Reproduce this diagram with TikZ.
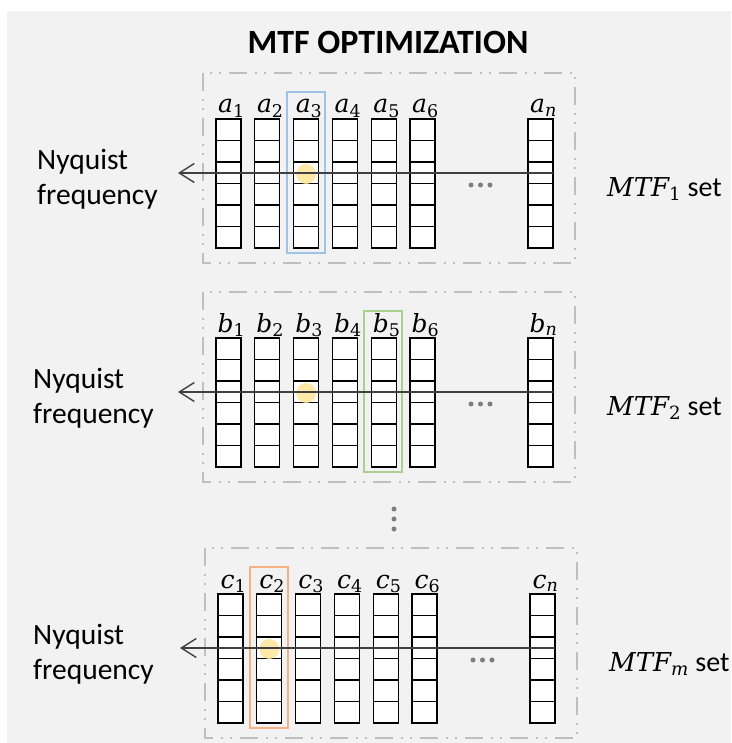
\documentclass[tikz,border=0pt]{standalone}
\usepackage{fontspec}
\setmainfont{Carlito}
\newfontfamily\symfont{DejaVu Serif}
\usetikzlibrary{arrows.meta,calc}

\definecolor{bggray}{HTML}{F2F2F2}
\definecolor{framegray}{HTML}{BFBFBF}
\definecolor{hlblue}{HTML}{9DC3E6}
\definecolor{hlgreen}{HTML}{A9D18E}
\definecolor{hlorange}{HTML}{F4B183}
\definecolor{spotyellow}{HTML}{FFE699}
\definecolor{axisgray}{HTML}{404040}
\definecolor{dotgray}{HTML}{7F7F7F}

% italic symbol with a subscript
\newcommand{\symb}[2]{{\symfont\itshape #1}\textsubscript{\symfont #2}}

\tikzset{
  setframe/.style={draw=framegray, line width=1.8pt,
    dash pattern=on 18pt off 8pt on 2pt off 7pt on 2pt off 8pt},
  column/.style={draw=black, fill=white, line width=1.3pt,
    minimum width=25pt, minimum height=129pt, inner sep=0pt, outer sep=0pt},
  cellline/.style={draw=black, line width=1.3pt},
  pick/.style={line width=1.8pt},
  spot/.style={fill=spotyellow, opacity=0.85},
  scanline/.style={draw=axisgray, line width=1.4pt,
    -{Straight Barb[length=15pt,width=19pt,line width=1.4pt]}},
  colname/.style={font=\fontsize{25}{28}\selectfont, inner sep=0pt, anchor=base},
  sidetext/.style={font=\fontsize{29.5}{35}\selectfont, align=left, anchor=west, inner sep=0pt},
  settext/.style={font=\fontsize{28}{34}\selectfont, anchor=west, inner sep=0pt},
  ellipsisdot/.style={fill=dotgray, draw=none},
}

% #1 prefix, #2 letter, #3 x shift, #4 column top, #5 highlighted column,
% #6 highlight colour, #7 spot column, #8 set index, #9 x of side text
\newcommand{\mtfpanel}[9]{%
  \begin{scope}[xshift=#3pt]
    \draw[setframe] (203,#4-46) rectangle (575,#4+144);
    \foreach \i in {1,...,6} {
      \pgfmathsetmacro\xl{216+(\i-1)*38.8}
      \node[column, anchor=north west] (#1\i) at (\xl,#4) {};
      \foreach \k in {1,...,5}
        \draw[cellline] ($(#1\i.north west)+(0,\k*21.5)$) -- ++(25,0);
      \node[colname] (#1l\i) at ($(#1\i.north)+(3,-6)$) {\symb{#2}{\i}};
    }
    \node[column, anchor=north west] (#1n) at (528,#4) {};
    \foreach \k in {1,...,5}
      \draw[cellline] ($(#1n.north west)+(0,\k*21.5)$) -- ++(25,0);
    \node[colname] (#1ln) at ($(#1n.north)+(3,-6)$) {\symb{#2}{\itshape n}};
    % highlighted column
    \draw[pick, draw=#6] ($(#1#5.north west)+(-7,-27)$) rectangle ($(#1#5.south east)+(6,5)$);
    % sampled frequency spot
    \coordinate (#1tip) at (178,#4+54);
    \fill[spot] (#1#7.center |- #1tip) ++(0,1) circle (10pt);
    \draw[scanline] (#1n.east |- #1tip) -- (#1tip);
    % ellipsis between columns
    \foreach \d in {471,480.5,490}
      \fill[ellipsisdot] (\d,#4+66) circle (2.5pt);
    \node[sidetext] (#1nyq) at (#9,#4+60) {Nyquist\\frequency};
    \node[settext] (#1set) at (607,#4+70) {{\fontsize{26}{30}\selectfont\symb{MTF}{#8}} set};
  \end{scope}
}

\begin{document}
\begin{tikzpicture}[x=1pt,y=-1pt]
  \useasboundingbox (0,0) rectangle (731,743);
  \fill[bggray] (7,11) rectangle (731,743);
  \node[font=\bfseries\fontsize{34}{38}\selectfont, inner sep=0pt] (title) at (388,42) {MTF OPTIMIZATION};

  \mtfpanel{A}{a}{0}{119}{3}{hlblue}{3}{1}{37}
  \mtfpanel{B}{b}{0}{338}{5}{hlgreen}{3}{2}{33}
  \mtfpanel{C}{c}{2}{594}{2}{hlorange}{2}{\itshape m}{31}

  % vertical ellipsis between the sets
  \foreach \v in {509,519,529}
    \fill[ellipsisdot] (394,\v) circle (2.5pt);
\end{tikzpicture}
\end{document}
